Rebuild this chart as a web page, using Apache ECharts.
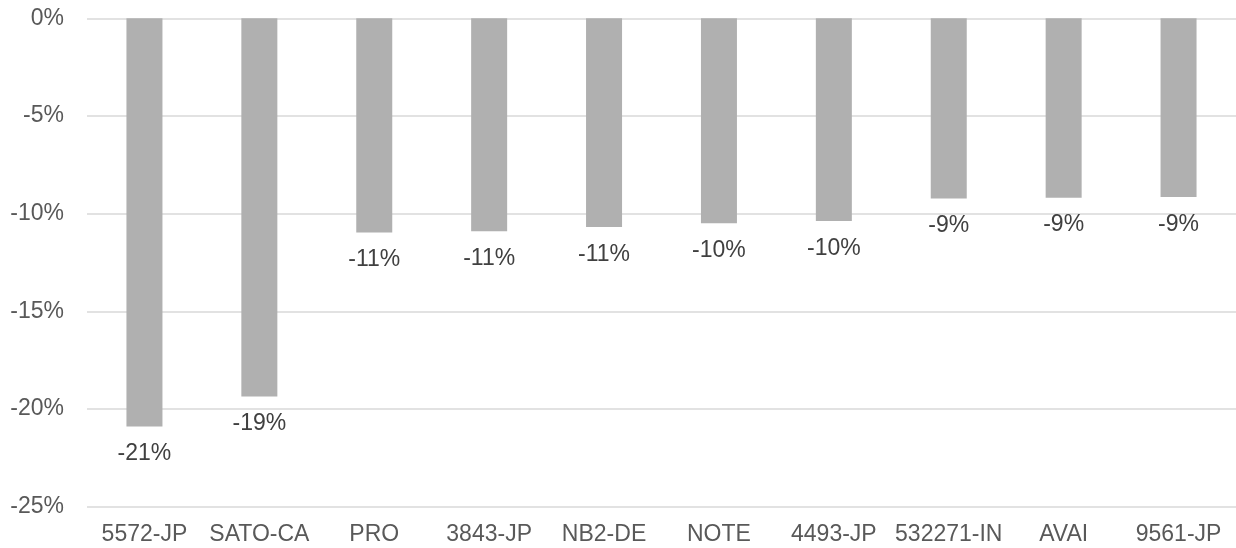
<!DOCTYPE html>
<html>
<head>
<meta charset="utf-8">
<script src="https://cdn.jsdelivr.net/npm/echarts@6/dist/echarts.min.js"></script>
<style>
  html, body { margin: 0; padding: 0; background: #ffffff; }
  #chart { width: 1236px; height: 548px; }
</style>
</head>
<body>
<div id="chart"></div>
<script>
// tickers and their price change (%)
var tickers = ['5572-JP', 'SATO-CA', 'PRO', '3843-JP', 'NB2-DE', 'NOTE', '4493-JP', '532271-IN', 'AVAI', '9561-JP'];
var changes = [-20.9, -19.36, -10.97, -10.9, -10.68, -10.49, -10.37, -9.22, -9.18, -9.15];

var yMin = -25;
var yMax = 0;
var yStep = 5;

function drawChart() {
    var chart = echarts.init(document.getElementById('chart'));

    var option = {
        backgroundColor: '#ffffff',
        animation: false,
        textStyle: {
            fontFamily: '"Liberation Sans", Arial, sans-serif'
        },
        grid: {
            left: 87,
            top: 18.3,
            width: 1159,
            height: 488.4
        },
        xAxis: {
            type: 'category',
            data: tickers,
            position: 'bottom',
            axisLine: { show: false },
            axisTick: { show: false },
            axisLabel: {
                color: '#595959',
                fontSize: 23,
                lineHeight: 23,
                margin: 16,
                interval: 0
            }
        },
        yAxis: {
            type: 'value',
            min: yMin,
            max: yMax,
            interval: yStep,
            axisLine: { show: false },
            axisTick: { show: false },
            axisLabel: {
                color: '#595959',
                fontSize: 23,
                margin: 23,
                formatter: '{value}%'
            },
            splitLine: {
                lineStyle: { color: '#d9d9d9', width: 1.5 }
            }
        },
        series: [
            {
                name: 'change',
                type: 'bar',
                data: changes,
                barWidth: 36,
                itemStyle: { color: '#b0b0b0' },
                label: {
                    show: true,
                    position: 'bottom',
                    distance: 16,
                    color: '#404040',
                    fontSize: 23,
                    lineHeight: 23,
                    formatter: function (p) {
                        return Math.round(p.value) + '%';
                    }
                }
            }
        ]
    };
    chart.setOption(option);
}

drawChart();
</script>
</body>
</html>
